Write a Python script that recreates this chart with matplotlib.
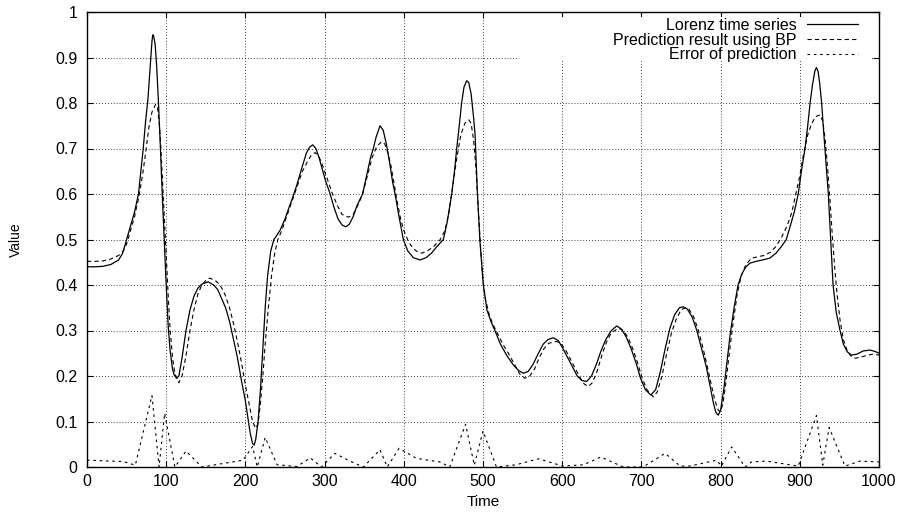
import matplotlib
matplotlib.use("Agg")
import matplotlib.pyplot as plt
from matplotlib.patches import Rectangle

plt.rcParams['font.family'] = ['Liberation Sans', 'DejaVu Sans']

# Lorenz time series (solid)
lorenz_t = [0, 10, 20, 30, 40, 45, 50, 55, 60, 65, 68, 71, 74, 77, 80, 82, 83, 84, 86, 88, 90,
            92, 95, 97.5, 100, 102.5, 105, 108, 110, 113, 116, 120, 125, 130, 135, 140, 145,
            153, 160, 165, 170, 175, 180, 185, 190, 195, 200, 203, 206, 209, 211, 213, 216,
            219, 222, 225, 228, 232, 236, 240, 244, 250, 255, 260, 265, 270, 273, 277, 281,
            285, 289, 293, 297, 301, 307, 312, 317, 322, 326.6, 331, 336, 341, 348, 353, 358,
            361.5, 365, 370, 374, 378, 382, 386, 389, 394, 399.4, 405, 412, 420.5, 428, 435,
            442, 450, 455, 460.5, 464, 466.8, 470, 473, 476, 479.4, 482, 485, 488, 490, 493,
            496, 500.4, 505, 510, 515, 522, 530, 538, 545, 551, 557, 563, 570, 576, 582,
            588.8, 595, 601, 607, 613, 619, 625, 631, 637, 643, 649, 655, 662, 668.8, 675,
            681, 687, 693, 699, 705, 712, 718, 724, 730, 736, 742, 748, 753, 758, 764, 770,
            776, 782, 787, 791, 794, 797, 800, 804, 808, 812, 817, 822, 827, 832, 837, 845,
            853, 862, 870, 877, 883, 888, 893, 898, 902, 906.6, 910, 913, 916, 919, 921, 923,
            925, 927.6, 930, 933, 936, 939, 942, 946, 950.8, 955, 960, 965.5, 972, 980, 988.6,
            995, 1000]
lorenz_v = [0.440, 0.440, 0.441, 0.445, 0.455, 0.47, 0.50, 0.53, 0.56, 0.60, 0.65, 0.70, 0.76,
            0.81, 0.885, 0.935, 0.95, 0.948, 0.93, 0.88, 0.81, 0.73, 0.60, 0.50, 0.40, 0.31,
            0.255, 0.215, 0.203, 0.195, 0.20, 0.24, 0.30, 0.345, 0.375, 0.393, 0.402, 0.407,
            0.40, 0.39, 0.37, 0.35, 0.32, 0.28, 0.24, 0.19, 0.145, 0.11, 0.075, 0.052, 0.048,
            0.06, 0.10, 0.17, 0.26, 0.35, 0.42, 0.475, 0.50, 0.51, 0.521, 0.545, 0.57, 0.594,
            0.62, 0.65, 0.667, 0.69, 0.703, 0.708, 0.70, 0.68, 0.655, 0.63, 0.60, 0.57, 0.545,
            0.532, 0.528, 0.533, 0.55, 0.575, 0.60, 0.64, 0.68, 0.70, 0.725, 0.750, 0.74,
            0.71, 0.67, 0.625, 0.60, 0.55, 0.50, 0.475, 0.46, 0.455, 0.46, 0.47, 0.485, 0.50,
            0.54, 0.60, 0.65, 0.70, 0.75, 0.80, 0.835, 0.849, 0.845, 0.82, 0.77, 0.73, 0.60,
            0.50, 0.40, 0.345, 0.32, 0.30, 0.27, 0.245, 0.225, 0.212, 0.206, 0.21, 0.225,
            0.25, 0.27, 0.28, 0.284, 0.278, 0.26, 0.24, 0.22, 0.20, 0.19, 0.188, 0.20, 0.225,
            0.255, 0.28, 0.30, 0.31, 0.303, 0.285, 0.26, 0.23, 0.195, 0.17, 0.158, 0.17, 0.21,
            0.26, 0.305, 0.335, 0.35, 0.352, 0.347, 0.33, 0.30, 0.26, 0.22, 0.175, 0.14, 0.12,
            0.114, 0.125, 0.17, 0.23, 0.29, 0.35, 0.40, 0.425, 0.44, 0.448, 0.452, 0.455,
            0.459, 0.47, 0.485, 0.50, 0.53, 0.56, 0.60, 0.65, 0.70, 0.75, 0.80, 0.84, 0.87,
            0.878, 0.87, 0.845, 0.80, 0.74, 0.67, 0.60, 0.50, 0.40, 0.34, 0.30, 0.27, 0.253,
            0.246, 0.248, 0.255, 0.257, 0.254, 0.25]

# Prediction result using BP (dashed)
pred_t = [0, 10, 20, 30, 40, 46, 50, 55, 60, 65, 70, 74, 78, 82, 86.7, 89, 91, 93, 95, 97, 99,
          101, 103, 105, 108, 111, 116, 120, 125, 130, 135, 140, 145, 150, 155, 162, 168, 174,
          180, 185, 190, 195, 200, 205, 209, 213, 216, 219, 222, 225, 229, 233, 237, 241, 246,
          252, 258, 265, 272, 278, 283, 288, 292, 296, 300, 305, 310, 316, 322, 330, 336, 342,
          348, 354, 360, 366, 372, 376, 380, 384, 388, 392, 396, 400, 406, 412, 418, 422.6,
          430, 438, 446, 452, 457, 462, 467, 472, 477, 482, 485, 488, 491, 494, 497, 500, 503,
          507, 512, 518, 525, 532, 540, 546, 553, 559, 565, 571, 577, 583, 593, 599, 605, 611,
          617, 623, 628, 633, 638, 644, 650, 656, 662, 671, 677, 683, 689, 695, 701, 707, 715,
          720, 726, 732, 738, 744, 750, 755, 760, 766, 772, 778, 784, 789, 793, 797, 800, 803,
          807, 811, 816, 821, 826, 832, 839, 847, 855, 863, 870, 877, 884, 890, 895, 900, 905,
          910, 915, 920, 925.5, 929, 932, 935, 938, 941, 944, 947, 951, 955, 960, 965, 970,
          978, 986, 993, 1000]
pred_v = [0.452, 0.452, 0.453, 0.457, 0.465, 0.475, 0.49, 0.52, 0.55, 0.59, 0.64, 0.69, 0.745,
          0.78, 0.797, 0.79, 0.76, 0.71, 0.64, 0.57, 0.50, 0.43, 0.36, 0.30, 0.24, 0.205,
          0.185, 0.20, 0.245, 0.30, 0.345, 0.38, 0.40, 0.41, 0.415, 0.41, 0.40, 0.38, 0.35,
          0.315, 0.275, 0.23, 0.18, 0.135, 0.10, 0.085, 0.095, 0.14, 0.20, 0.27, 0.35, 0.42,
          0.47, 0.50, 0.52, 0.55, 0.58, 0.615, 0.65, 0.67, 0.685, 0.691, 0.685, 0.67, 0.65,
          0.625, 0.60, 0.575, 0.555, 0.549, 0.555, 0.575, 0.60, 0.64, 0.68, 0.705, 0.715,
          0.71, 0.69, 0.66, 0.62, 0.58, 0.545, 0.52, 0.495, 0.48, 0.472, 0.47, 0.475, 0.485,
          0.50, 0.52, 0.56, 0.62, 0.68, 0.73, 0.755, 0.763, 0.755, 0.72, 0.66, 0.57, 0.48,
          0.41, 0.37, 0.34, 0.315, 0.295, 0.27, 0.25, 0.225, 0.205, 0.195, 0.20, 0.215, 0.24,
          0.26, 0.272, 0.276, 0.27, 0.255, 0.235, 0.215, 0.195, 0.182, 0.177, 0.185, 0.21,
          0.245, 0.275, 0.295, 0.305, 0.30, 0.285, 0.26, 0.23, 0.195, 0.17, 0.154, 0.165,
          0.20, 0.25, 0.295, 0.325, 0.345, 0.35, 0.347, 0.33, 0.30, 0.26, 0.215, 0.175, 0.145,
          0.125, 0.122, 0.14, 0.19, 0.25, 0.32, 0.38, 0.42, 0.445, 0.459, 0.462, 0.465, 0.472,
          0.485, 0.505, 0.53, 0.56, 0.60, 0.64, 0.69, 0.73, 0.755, 0.77, 0.774, 0.76, 0.72,
          0.66, 0.59, 0.51, 0.44, 0.38, 0.32, 0.28, 0.255, 0.243, 0.239, 0.242, 0.246, 0.248,
          0.246]

# Error of prediction (dotted)
err_t = [0, 46, 61, 82, 91, 98, 111, 125, 145, 197, 209, 215, 225, 240, 265, 282, 296, 313,
         333, 349, 370, 379, 394, 416, 446, 458, 478, 489, 500, 517, 542, 570, 601, 627, 649,
         677, 702, 730, 749, 761, 795, 801, 814, 831, 839, 858, 898, 921, 929, 937, 957, 976,
         1000]
err_v = [0.015, 0.012, 0.004, 0.157, 0.0, 0.118, 0.0, 0.035, 0.0, 0.015, 0.045, 0.0, 0.065,
         0.005, 0.001, 0.02, 0.0, 0.03, 0.012, 0.0, 0.038, 0.0, 0.041, 0.019, 0.011, 0.0,
         0.094, 0.004, 0.079, 0.0, 0.005, 0.018, 0.002, 0.005, 0.022, 0.0, 0.0, 0.030,
         0.002, 0.002, 0.015, 0.002, 0.044, 0.0, 0.011, 0.013, 0.002, 0.113, 0.004, 0.087,
         0.002, 0.013, 0.011]

labels = ["Lorenz time series", "Prediction result using BP", "Error of prediction"]
x_ticks = [0, 100, 200, 300, 400, 500, 600, 700, 800, 900, 1000]
y_ticks = [0, 0.1, 0.2, 0.3, 0.4, 0.5, 0.6, 0.7, 0.8, 0.9, 1]
y_tick_labels = ["0", "0.1", "0.2", "0.3", "0.4", "0.5", "0.6", "0.7", "0.8", "0.9", "1"]

fig = plt.figure(figsize=(9.04, 5.13), dpi=100)
ax = fig.add_axes([87/904, 1-467/513, 792/904, 455/513])

ax.plot(lorenz_t, lorenz_v, color='black', lw=0.9, ls='-', label=labels[0], zorder=3)
ax.plot(pred_t, pred_v, color='black', lw=0.8, ls=(0, (3.8, 2.9)), label=labels[1], zorder=3)
ax.plot(err_t, err_v, color='black', lw=0.8, ls=(0, (2.3, 3.4)), label=labels[2], zorder=3)

ax.set_xlim(0, 1000)
ax.set_ylim(0, 1)
ax.set_xticks(x_ticks)
ax.set_yticks(y_ticks)
ax.set_yticklabels(y_tick_labels)
ax.set_axisbelow(True)
ax.grid(True, color='black', ls=(0, (1, 2.5)), lw=0.6)
ax.tick_params(direction='in', top=True, right=True, length=4, width=0.8,
               labelsize=11.5, colors='black')
ax.tick_params(axis='y', pad=7)
ax.tick_params(axis='x', pad=5)
for s in ax.spines.values():
    s.set_linewidth(1.0)

# white key area like gnuplot
ax.add_patch(Rectangle((0.544, 0.894), 0.99 - 0.544, 0.988 - 0.894,
                       transform=ax.transAxes, facecolor='white', edgecolor='none', zorder=1))

ax.set_xlabel("Time", fontsize=11, labelpad=4)
ax.set_ylabel("Value", fontsize=10, labelpad=23)

leg = ax.legend(loc='upper right', bbox_to_anchor=((858-87)/792, 1 - 6/455),
                markerfirst=False, frameon=False, fontsize=11.5, handlelength=3.2,
                handletextpad=0.65, labelspacing=-0.02, borderaxespad=0, borderpad=0)
for t in leg.get_texts():
    t.set_ha('right')
leg.set_zorder(5)

fig.savefig("out.png", dpi=100)
